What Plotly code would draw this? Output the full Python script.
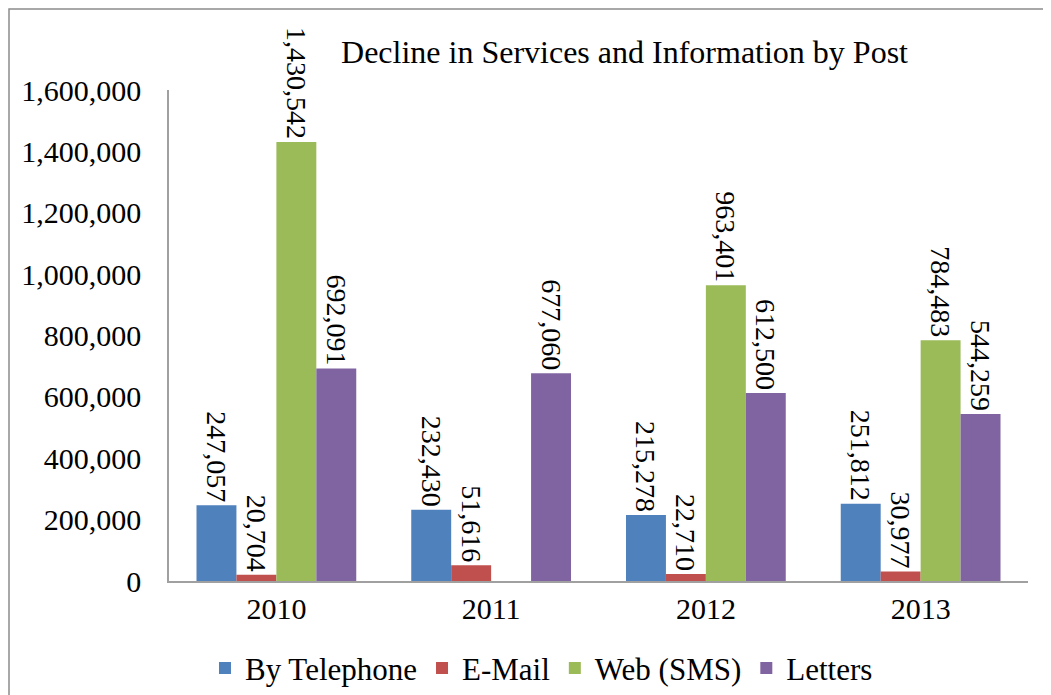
import plotly.graph_objects as go

years = ["2010", "2011", "2012", "2013"]
series_names = ["By Telephone", "E-Mail", "Web (SMS)", "Letters"]
telephone = [247057, 232430, 215278, 251812]
email = [20704, 51616, 22710, 30977]
web_sms = [1430542, None, 963401, 784483]
letters = [692091, 677060, 612500, 544259]
colors = ["#4F81BD", "#C0504D", "#9BBB59", "#8064A2"]

FONT = "Liberation Serif, serif"

fig = go.Figure()
for name, vals, col in zip(series_names, [telephone, email, web_sms, letters], colors):
    fig.add_trace(go.Bar(
        x=years,
        y=vals,
        name=name,
        marker=dict(color=col, line=dict(width=0)),
        text=[f"{v:,}" if v is not None else "" for v in vals],
        textposition="outside",
        textangle=90,
        textfont=dict(family=FONT, size=28, color="black"),
        outsidetextfont=dict(family=FONT, size=28, color="black"),
        cliponaxis=False,
        constraintext="none",
    ))

# the page body adds an 8px offset, so margins are shifted to compensate
fig.update_layout(
    width=1051,
    height=695,
    barmode="group",
    bargap=0.256,
    bargroupgap=0,
    plot_bgcolor="white",
    paper_bgcolor="white",
    font=dict(family=FONT, size=30, color="black"),
    title=dict(
        text="Decline in Services and Information by Post",
        x=0.5866, xanchor="center", xref="container",
        y=0.937, yanchor="middle",
        font=dict(family=FONT, size=32, color="black"),
    ),
    margin=dict(l=161, r=31, t=82, b=122),
    xaxis=dict(
        showline=True, linecolor="#A0A0A0", linewidth=1.5,
        ticks="", showgrid=False, tickfont=dict(family=FONT, size=30),
        automargin=False,
    ),
    yaxis=dict(
        range=[0, 1600000], dtick=200000, tickformat=",d",
        showline=True, linecolor="#A0A0A0", linewidth=1.5,
        ticks="", showgrid=False, zeroline=False,
        tickfont=dict(family=FONT, size=30), ticklabelstandoff=20,
        automargin=False,
    ),
    legend=dict(
        orientation="h", x=0.5076, xanchor="center", xref="container",
        yref="container", y=0.050, yanchor="middle",
        font=dict(family=FONT, size=31), itemwidth=30,
        bgcolor="rgba(0,0,0,0)",
    ),
    shapes=[dict(
        type="rect", xref="paper", yref="paper",
        x0=-160 / 859, x1=1 + 60 / 859,
        y0=-160 / 491, y1=1 + 81 / 491,
        line=dict(color="#8C8C8C", width=1.5),
    )],
)

fig.write_html("out.html")
